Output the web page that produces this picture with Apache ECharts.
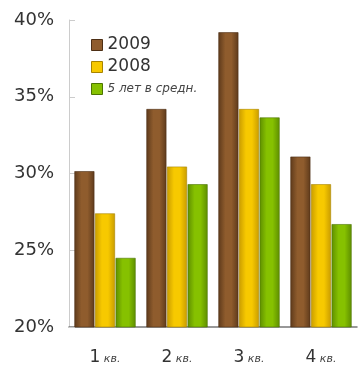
<!DOCTYPE html>
<html>
<head>
<meta charset="utf-8">
<script src="https://cdn.jsdelivr.net/npm/echarts@6/dist/echarts.min.js"></script>
<style>
html,body{margin:0;padding:0;background:#fff;}
#main{width:358px;height:367px;}
</style>
</head>
<body>
<div id="main"></div>
<script>
// данные
var quarters = ["1", "2", "3", "4"];
var seriesNames = ["2009", "2008", "5 лет в средн."];
var values2009 = [30.15, 34.2, 39.2, 31.1];
var values2008 = [27.4, 30.45, 34.2, 29.3];
var valuesAvg = [24.5, 29.3, 33.65, 26.7];
var yTicks = [20, 25, 30, 35, 40];

var FONT = "DejaVu Sans";

function barGradient(edge, mid){
    return new echarts.graphic.LinearGradient(0, 0, 1, 0, [
        {offset: 0, color: edge},
        {offset: 0.35, color: mid},
        {offset: 0.65, color: mid},
        {offset: 1, color: edge}
    ]);
}
var colorSets = [
    {edge: "#5e3a1b", mid: "#8f5c2d", border: "#4d2f15"},
    {edge: "#c99c00", mid: "#f7c900", border: "#a88400"},
    {edge: "#5e8e00", mid: "#86c100", border: "#4c7400"}
];
var dataSets = [values2009, values2008, valuesAvg];

var chart = echarts.init(document.getElementById("main"));
var series = [];
for(var i = 0; i < seriesNames.length; i++){
    series.push({
        name: seriesNames[i],
        type: "bar",
        barWidth: 20,
        barGap: "3%",
        barCategoryGap: "14%",
        itemStyle: {
            color: barGradient(colorSets[i].edge, colorSets[i].mid),
            borderColor: colorSets[i].border,
            borderWidth: 0.6
        },
        data: dataSets[i]
    });
}

var option = {
    animation: false,
    grid: {left: 69, right: 1, top: 20, bottom: 40, containLabel: false},
    legend: {
        orient: "vertical",
        left: 86,
        top: 31,
        itemWidth: 11,
        itemHeight: 11,
        itemGap: 4,
        icon: "rect",
        textStyle: {fontFamily: FONT, fontSize: 17, color: "#333", lineHeight: 18},
        data: [
            {name: "2009", itemStyle: {color: colorSets[0].mid, borderColor: colorSets[0].border, borderWidth: 1}},
            {name: "2008", itemStyle: {color: colorSets[1].mid, borderColor: colorSets[1].border, borderWidth: 1}},
            {name: "5 лет в средн.", itemStyle: {color: colorSets[2].mid, borderColor: colorSets[2].border, borderWidth: 1},
                textStyle: {fontSize: 12, fontStyle: "italic", fontFamily: FONT, color: "#444"}}
        ]
    },
    xAxis: {
        type: "category",
        data: quarters,
        axisLine: {lineStyle: {color: "#777", width: 1.5}},
        axisTick: {show: false},
        axisLabel: {
            interval: 0,
            margin: 22,
            formatter: function(v){ return "{n|" + v + "} {k|кв.}"; },
            rich: {
                n: {fontFamily: FONT, fontSize: 17, color: "#333"},
                k: {fontFamily: FONT, fontSize: 11, fontStyle: "italic", color: "#444", padding: [4, 0, 0, 0]}
            }
        }
    },
    yAxis: {
        type: "value",
        min: yTicks[0],
        max: yTicks[yTicks.length - 1],
        interval: 5,
        axisLine: {show: true, lineStyle: {color: "#ccc"}},
        axisTick: {show: true, inside: true, length: 6, lineStyle: {color: "#ccc"}},
        splitLine: {show: false},
        axisLabel: {
            margin: 15,
            fontFamily: FONT,
            fontSize: 18,
            color: "#333",
            formatter: "{value}%"
        }
    },
    series: series
};
chart.setOption(option);
</script>
</body>
</html>
